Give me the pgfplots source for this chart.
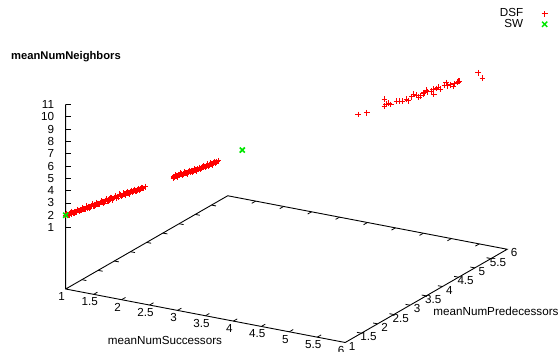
\documentclass[border=0pt]{standalone}
\usepackage{fontspec}
\setmainfont{Liberation Sans}
\usepackage{pgfplots}
\pgfplotsset{compat=1.18}

\definecolor{dsfred}{RGB}{255,0,0}
\definecolor{swgreen}{RGB}{0,230,0}
\newcommand{\lbl}{\fontsize{11.66}{13}\selectfont}

\begin{document}
\begin{tikzpicture}
\begin{axis}[
  x={(55.9pt,-10.7pt)}, y={(32.4pt,18.65pt)}, z={(0pt,12.3pt)},
  xmin=1, xmax=6, ymin=1, ymax=6, zmin=-4, zmax=11,
  hide axis, clip=false,
  legend style={at={(axis description cs:1.10,1.02)}, anchor=north east,
    draw=none, fill=none, font=\lbl, row sep=-3pt, column sep=16pt},
  legend cell align=right,
  legend plot pos=right,
]
% legend samples, drawn as plain strokes
\addlegendimage{legend image code/.code={
  \color{dsfred}
  \draw[draw=dsfred, line width=1pt] (0.3cm-3pt,0pt) -- (0.3cm+3pt,0pt)
    (0.3cm,-3pt) -- (0.3cm,3pt);}}
\addlegendentry{DSF}
\addlegendimage{legend image code/.code={
  \color{swgreen}
  \draw[draw=swgreen, line width=1.4pt] (0.3cm-2.6pt,-2.6pt) -- (0.3cm+2.6pt,2.6pt)
    (0.3cm-2.6pt,2.6pt) -- (0.3cm+2.6pt,-2.6pt);}}
\addlegendentry{SW}

% DSF runs: meanNumSuccessors = meanNumPredecessors
\addplot3[only marks, mark=+, mark size=2.9pt, color=dsfred, forget plot,
  mark options={line width=0.85pt, draw=dsfred}] coordinates {
 (1.00,1.00,2.00) (1.02,1.02,2.05) (1.03,1.03,2.02) (1.05,1.05,2.12)
 (1.06,1.06,2.08) (1.08,1.08,2.17) (1.09,1.09,2.13) (1.11,1.11,2.22)
 (1.12,1.12,2.20) (1.14,1.14,2.29) (1.15,1.15,2.25) (1.17,1.17,2.34)
 (1.18,1.18,2.31) (1.20,1.20,2.40) (1.21,1.21,2.36) (1.23,1.23,2.47)
 (1.25,1.25,2.45) (1.26,1.26,2.52) (1.28,1.28,2.51) (1.29,1.29,2.58)
 (1.31,1.31,2.56) (1.33,1.33,2.65) (1.34,1.34,2.61) (1.36,1.36,2.71)
 (1.37,1.37,2.68) (1.39,1.39,2.78) (1.41,1.41,2.76) (1.42,1.42,2.83)
 (1.44,1.44,2.82) (1.45,1.45,2.90) (1.47,1.47,2.87) (1.49,1.49,2.97)
 (1.50,1.50,2.93) (1.52,1.52,3.03) (1.54,1.54,3.01) (1.55,1.55,3.08)
 (1.57,1.57,3.07) (1.59,1.59,3.14) (1.60,1.60,3.12) (1.62,1.62,3.21)
 (1.64,1.64,3.18) (1.66,1.66,3.27) (1.67,1.67,3.25) (1.69,1.69,3.33)
 (1.71,1.71,3.31) (1.73,1.73,3.40) (1.75,1.75,3.38) (1.77,1.77,3.45)
 (1.79,1.79,3.46) (1.81,1.81,3.52) (1.83,1.83,3.55) (1.85,1.85,3.59)
 (1.87,1.87,3.64) (1.90,1.90,3.74)
 (1.01,1.01,2.12) (1.04,1.04,2.00) (1.07,1.07,2.26) (1.10,1.10,2.09)
 (1.13,1.13,2.35) (1.16,1.16,2.20) (1.19,1.19,2.48) (1.22,1.22,2.33)
 (1.24,1.24,2.58) (1.27,1.27,2.40) (1.30,1.30,2.70) (1.32,1.32,2.52)
 (1.35,1.35,2.79) (1.38,1.38,2.63) (1.40,1.40,2.88) (1.43,1.43,2.72)
 (1.46,1.46,3.00) (1.48,1.48,2.82) (1.51,1.51,3.10) (1.53,1.53,2.92)
 (1.56,1.56,3.20) (1.58,1.58,3.02) (1.61,1.61,3.30) (1.63,1.63,3.12)
 (1.65,1.65,3.38) (1.68,1.68,3.20) (1.70,1.70,3.45) (1.72,1.72,3.28)
 (1.74,1.74,3.52) (1.76,1.76,3.35) (1.78,1.78,3.58) (1.80,1.80,3.42)
 (1.82,1.82,3.62) (1.84,1.84,3.50) (1.86,1.86,3.70) (1.88,1.88,3.60)
 (2.22,2.22,4.34) (2.23,2.23,4.30) (2.25,2.25,4.40) (2.26,2.26,4.37)
 (2.28,2.28,4.45) (2.29,2.29,4.42) (2.31,2.31,4.50) (2.33,2.33,4.48)
 (2.34,2.34,4.55) (2.36,2.36,4.58) (2.37,2.37,4.54) (2.39,2.39,4.63)
 (2.41,2.41,4.61) (2.42,2.42,4.68) (2.44,2.44,4.70) (2.45,2.45,4.66)
 (2.47,2.47,4.75) (2.49,2.49,4.78) (2.50,2.50,4.74) (2.52,2.52,4.84)
 (2.54,2.54,4.87) (2.55,2.55,4.90) (2.57,2.57,4.95) (2.59,2.59,4.98)
 (2.61,2.61,5.03) (2.63,2.63,5.06) (2.65,2.65,5.12) (2.67,2.67,5.15)
 (2.69,2.69,5.19) (2.71,2.71,5.23) (2.73,2.73,5.31)
 (2.22,2.22,4.22) (2.24,2.24,4.46) (2.27,2.27,4.30) (2.30,2.30,4.57)
 (2.32,2.32,4.38) (2.35,2.35,4.63) (2.38,2.38,4.47) (2.40,2.40,4.72)
 (2.43,2.43,4.56) (2.46,2.46,4.82) (2.48,2.48,4.66) (2.51,2.51,4.90)
 (2.53,2.53,4.76) (2.56,2.56,4.99) (2.58,2.58,4.86) (2.60,2.60,5.10)
 (2.62,2.62,4.95) (2.64,2.64,5.18) (2.66,2.66,5.04) (2.68,2.68,5.26)
 (2.70,2.70,5.12)
 (4.31,4.31,8.04) (4.41,4.41,8.13) (4.61,4.61,9.09) (4.61,4.61,8.55)
 (4.66,4.66,8.74) (4.63,4.63,8.70) (4.68,4.68,8.62) (4.75,4.75,8.84)
 (4.78,4.78,8.82) (4.81,4.81,8.80) (4.88,4.88,8.80) (4.86,4.86,8.92)
 (4.92,4.92,9.10) (4.94,4.94,9.31) (5.00,5.00,9.00) (4.97,4.97,9.18)
 (5.02,5.02,9.12) (5.08,5.08,9.54) (5.06,5.06,9.34) (5.05,5.05,9.25)
 (5.10,5.10,9.38) (5.17,5.17,9.16) (5.16,5.16,9.55) (5.14,5.14,9.42)
 (5.22,5.22,9.67) (5.24,5.24,9.50) (5.20,5.20,9.58) (5.31,5.31,9.99)
 (5.32,5.32,9.72) (5.29,5.29,9.80) (5.39,5.39,9.67) (5.40,5.40,9.83)
 (5.36,5.36,9.78) (5.45,5.45,10.01) (5.46,5.46,10.03) (5.44,5.44,9.95)
 (5.67,5.67,10.57) (5.72,5.72,10.09)
};
% SW runs
\addplot3[only marks, mark=x, mark size=3.6pt, color=swgreen, forget plot,
  mark options={line width=1.7pt, draw=swgreen}] coordinates {
 (1,1,2) (3,3,6)
};

% base frame and vertical z axis
\addplot3[black, line width=0.9pt, forget plot] coordinates {
 (1,1,11) (1,1,-4) (6,1,-4) (6,6,-4) (1,6,-4) (1,1,-4)
};

% tick marks on the base frame (with mirrors)
\pgfplotsinvokeforeach{1.5,2,2.5,3,3.5,4,4.5,5,5.5}{
  \draw[line width=0.8pt] (axis cs:#1,1,-4) -- (axis cs:#1,1.12,-4);
  \draw[line width=0.8pt] (axis cs:#1,6,-4) -- (axis cs:#1,5.88,-4);
  \draw[line width=0.8pt] (axis cs:6,#1,-4) -- (axis cs:5.92,#1,-4);
  \draw[line width=0.8pt] (axis cs:1,#1,-4) -- (axis cs:1.08,#1,-4);
}
% tick labels
\pgfplotsinvokeforeach{1,1.5,2,2.5,3,3.5,4,4.5,5,5.5,6}{
  \node[font=\lbl, inner sep=0pt, xshift=-4pt, yshift=-7.5pt] at (axis cs:#1,1,-4) {#1};
  \node[font=\lbl, inner sep=0pt, xshift=7pt, yshift=-3.5pt] at (axis cs:6,#1,-4) {#1};
}
\pgfplotsinvokeforeach{1,2,3,4,5,6,7,8,9,10,11}{
  \draw[line width=0.8pt] (axis cs:1,1,#1) -- ++(5pt,0pt);
  \node[font=\lbl, inner sep=0pt, anchor=east, xshift=-11.5pt] at (axis cs:1,1,#1) {#1};
}
\coordinate (O) at (axis cs:1,1,-4);
\end{axis}

% axis titles
\path (O) ++(99.3pt,-51pt) node[font=\lbl] {meanNumSuccessors};
\path (O) ++(430.3pt,-22pt) node[font=\lbl] {meanNumPredecessors};
\path (O) ++(0.3pt,232pt) node[font=\fontsize{11.2}{13}\selectfont\bfseries] {meanNumNeighbors};

\pgfresetboundingbox
\path[use as bounding box] (O) ++(-65.7pt,289pt) rectangle ++(559pt,-351pt);
\end{tikzpicture}
\end{document}
